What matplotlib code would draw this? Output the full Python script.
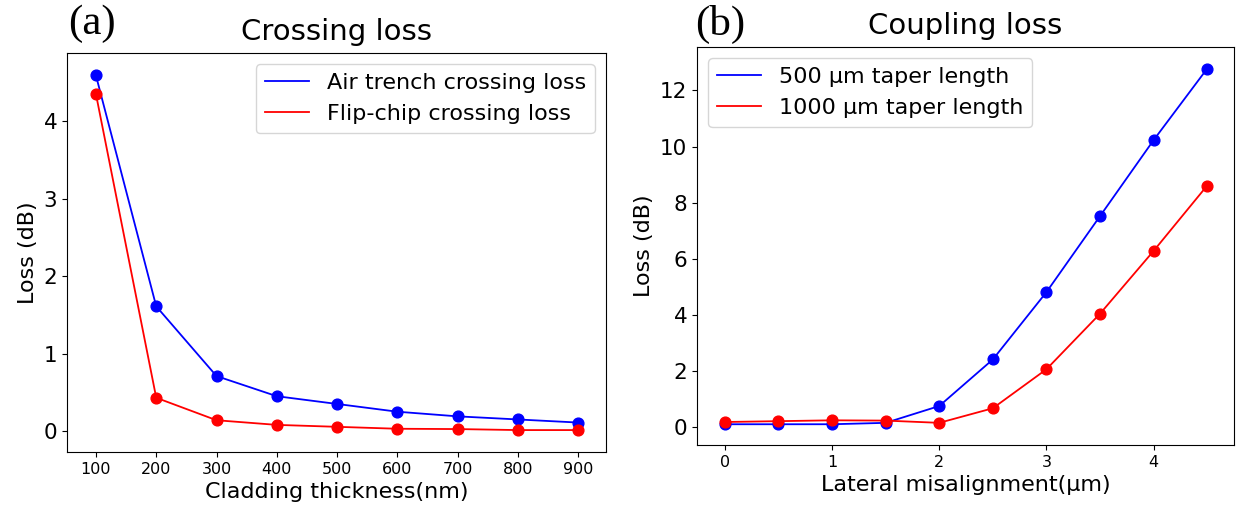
import matplotlib
matplotlib.use("Agg")
import matplotlib.pyplot as plt

# (a) crossing loss vs cladding thickness
thickness = [100, 200, 300, 400, 500, 600, 700, 800, 900]  # nm
air_trench = [4.59, 1.61, 0.71, 0.45, 0.35, 0.25, 0.19, 0.15, 0.11]
flip_chip = [4.35, 0.43, 0.14, 0.08, 0.055, 0.03, 0.026, 0.013, 0.013]

# (b) coupling loss vs lateral misalignment
misalign = [0, 0.5, 1, 1.5, 2, 2.5, 3, 3.5, 4, 4.5]  # um
taper_500 = [0.10, 0.10, 0.10, 0.15, 0.75, 2.41, 4.81, 7.52, 10.23, 12.78]
taper_1000 = [0.18, 0.21, 0.24, 0.23, 0.15, 0.67, 2.06, 4.04, 6.28, 8.61]

W, H = 1241, 507
fig = plt.figure(figsize=(W / 100, H / 100), dpi=100)
ax1 = fig.add_axes([67 / W, 1 - 452 / H, (606 - 67) / W, (452 - 53) / H])
ax2 = fig.add_axes([697 / W, 1 - 445 / H, (1234 - 697) / W, (445 - 47) / H])

ax1.plot(thickness, air_trench, color='blue', lw=1.3, label='Air trench crossing loss')
ax1.plot(thickness, flip_chip, color='red', lw=1.3, label='Flip-chip crossing loss')
ax1.scatter(thickness, air_trench, color='blue', s=60, zorder=3)
ax1.scatter(thickness, flip_chip, color='red', s=60, zorder=3)
ax1.set_xlim(52, 946)
ax1.set_ylim(-0.27, 4.88)
ax1.set_xticks(thickness)
ax1.set_yticks([0, 1, 2, 3, 4])
ax1.set_xlabel("Cladding thickness(nm)", fontsize=16)
ax1.set_ylabel("Loss (dB)", fontsize=16)
ax1.set_title("Crossing loss", fontsize=21, pad=9)
ax1.tick_params(axis='x', labelsize=11.5)
ax1.tick_params(axis='y', labelsize=15.5)
ax1.legend(fontsize=16, loc='upper right')

ax2.plot(misalign, taper_500, color='blue', lw=1.3, label='500 μm taper length')
ax2.plot(misalign, taper_1000, color='red', lw=1.3, label='1000 μm taper length')
ax2.scatter(misalign, taper_500, color='blue', s=60, zorder=3)
ax2.scatter(misalign, taper_1000, color='red', s=60, zorder=3)
ax2.set_xlim(-0.26, 4.75)
ax2.set_ylim(-0.64, 13.55)
ax2.set_xticks([0, 1, 2, 3, 4])
ax2.set_yticks([0, 2, 4, 6, 8, 10, 12])
ax2.set_xlabel("Lateral misalignment(μm)", fontsize=16)
ax2.set_ylabel("Loss (dB)", fontsize=16)
ax2.set_title("Coupling loss", fontsize=21, pad=9)
ax2.tick_params(axis='x', labelsize=11.5)
ax2.tick_params(axis='y', labelsize=15.5)
ax2.legend(fontsize=16, loc='upper left')

fig.text(68 / W, 1 - 24 / H, "(a)", fontsize=31, family='Liberation Serif', va='center')
fig.text(695 / W, 1 - 24 / H, "(b)", fontsize=31, family='Liberation Serif', va='center')

fig.savefig("out.png", dpi=100)
